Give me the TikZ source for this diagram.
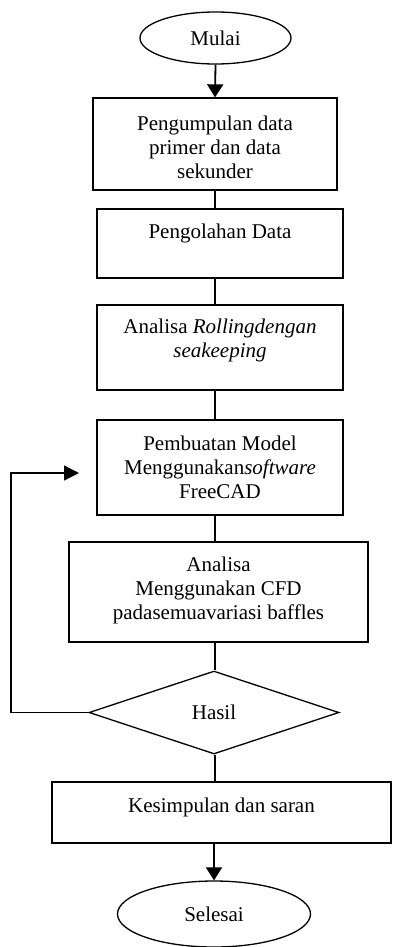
\documentclass[tikz,border=0pt]{standalone}
\usepackage{fontspec}
\setmainfont{Liberation Serif}
\usetikzlibrary{arrows.meta,shapes.geometric}
\begin{document}
\begin{tikzpicture}[x=1pt,y=-1pt,
  every node/.style={font=\fontsize{21}{24}\selectfont},
  boxshape/.style={draw,line width=1.3pt,rectangle,inner sep=0pt},
  ovalshape/.style={draw,line width=1.3pt,ellipse,inner sep=0pt},
  txt/.style={align=center,inner sep=0pt},
  conn/.style={line width=1.3pt},
  arr/.style={line width=1.8pt,-{Triangle[length=13pt,width=16pt]}},
  fbarr/.style={line width=1.3pt,-{Triangle[length=15pt,width=15pt]}}]
\useasboundingbox (0,0) rectangle (392,947);
% start
\node[ovalshape,minimum width=151pt,minimum height=52pt] (m) at (215.5,38) {Mulai};
% box 1
\node[boxshape,minimum width=244pt,minimum height=92pt] (b1) at (215,144) {};
\node[txt] (t1) at (215,147) {Pengumpulan data\\primer dan data\\sekunder};
% box 2
\node[boxshape,minimum width=246pt,minimum height=69pt] (b2) at (220,243.5) {};
\node[txt] (t2) at (220,233) {Pengolahan Data};
% box 3
\node[boxshape,minimum width=246pt,minimum height=85pt] (b3) at (220,347.5) {};
\node[txt] (t3) at (220,340) {Analisa \textit{Rollingdengan}\\\textit{seakeeping}};
% box 4
\node[boxshape,minimum width=246pt,minimum height=95pt] (b4) at (220,467.5) {};
\node[txt] (t4) at (220,467) {Pembuatan Model\\Menggunakan\textit{software}\\FreeCAD};
% box 5
\node[boxshape,minimum width=299pt,minimum height=100pt] (b5) at (218.5,592) {};
\node[txt] (t5) at (218.5,590) {Analisa\\Menggunakan CFD\\padasemuavariasi baffles};
% decision
\node[draw,line width=1.3pt,diamond,inner sep=0pt,minimum width=250pt,minimum height=83pt] (d) at (214,712.5) {Hasil};
% box 6
\node[boxshape,minimum width=339pt,minimum height=61pt] (b6) at (221.5,812.5) {};
\node[txt] (t6) at (221.5,807) {Kesimpulan dan saran};
% end
\node[ovalshape,minimum width=193pt,minimum height=66pt] (s) at (214,914) {Selesai};
% connectors
\draw[arr] (m.south) -- (b1.north);
\draw[conn] (b1.south) -- (b1.south |- b2.north);
\draw[conn] (b1.south |- b2.south) -- (b1.south |- b3.north);
\draw[conn] (b1.south |- b3.south) -- (b1.south |- b4.north);
\draw[conn] (b1.south |- b4.south) -- (b1.south |- b5.north);
\draw[conn] (b1.south |- b5.south) -- (b1.south |- d.north);
\draw[conn] (b1.south |- d.south) -- (b1.south |- b6.north);
\draw[arr] (s.north |- b6.south) -- (s.north);
% feedback
\coordinate (fc) at (11,473);
\coordinate (ftip) at (79,473);
\draw[fbarr] (d.west) -| (fc) -- (ftip);
\end{tikzpicture}
\end{document}
